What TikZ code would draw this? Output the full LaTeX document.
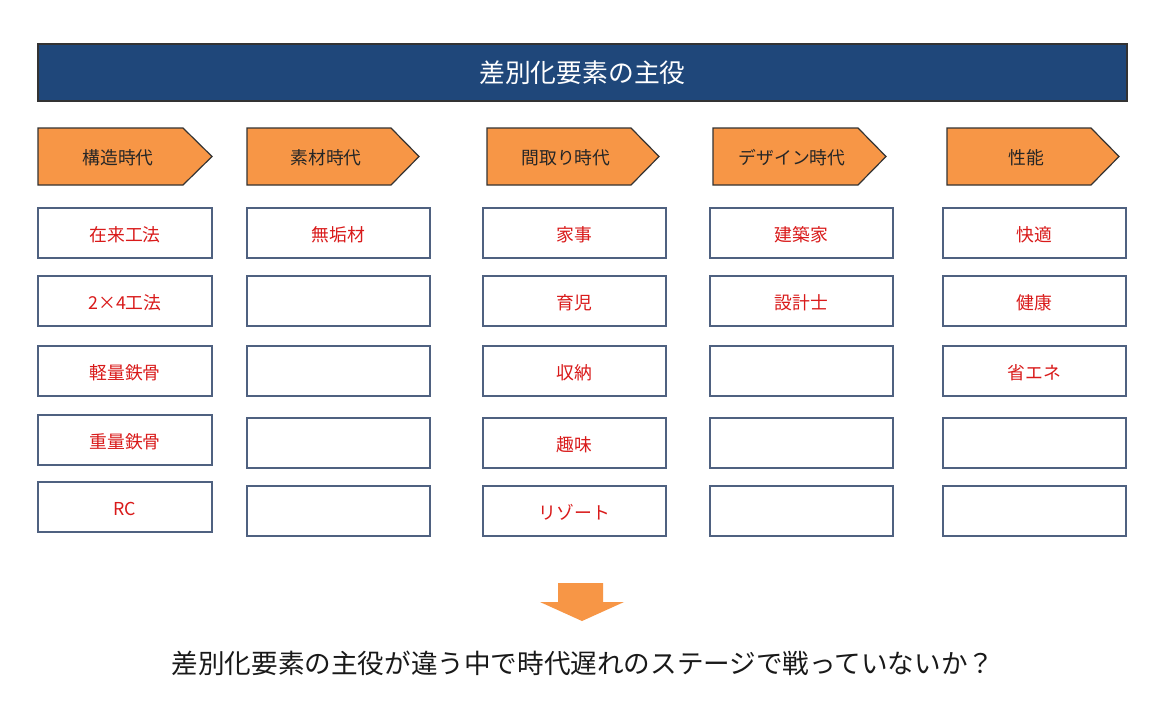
\documentclass[tikz,border=0pt]{standalone}
\usepackage{fontspec}
\setmainfont{Noto Sans CJK JP}
\begin{document}
\begin{tikzpicture}[x=1pt,y=-1pt,
  hdr/.style={draw=black!80,line width=1.2pt,fill=navy},
  stage/.style={draw=black!80,line width=1.2pt,fill=orangeA},
  cell/.style={draw=cellborder,line width=1.4pt,fill=white},
  stagetxt/.style={font=\fontsize{17.8}{20}\selectfont,text=black!85},
  celltxt/.style={font=\fontsize{17.8}{20}\selectfont,text=redA},
]
\definecolor{navy}{HTML}{1F477A}
\definecolor{orangeA}{HTML}{F79646}
\definecolor{cellborder}{HTML}{4F6180}
\definecolor{redA}{HTML}{D91A1A}
\useasboundingbox (0,0) rectangle (1154,718);
\fill[white] (0,0) rectangle (1154,718);
% header
\draw[hdr] (38,44) rectangle (1127,101);
\node[font=\fontsize{25.8}{28}\selectfont,text=white] (title) at (582.5,73) {差別化要素の主役};
% stage arrows
\draw[stage] (38,128) -- (183,128) -- (212,156.5) -- (183,185) -- (38,185) -- cycle;
\node[stagetxt] (s1) at (118,157.5) {構造時代};
\draw[stage] (247,128) -- (391,128) -- (419,156.5) -- (391,185) -- (247,185) -- cycle;
\node[stagetxt] (s2) at (326,157.5) {素材時代};
\draw[stage] (487,128) -- (631,128) -- (659,156.5) -- (631,185) -- (487,185) -- cycle;
\node[stagetxt] (s3) at (566,157.5) {間取り時代};
\draw[stage] (713,128) -- (858,128) -- (886,156.5) -- (858,185) -- (713,185) -- cycle;
\node[stagetxt] (s4) at (792,157.5) {デザイン時代};
\draw[stage] (947,128) -- (1091,128) -- (1119,156.5) -- (1091,185) -- (947,185) -- cycle;
\node[stagetxt] (s5) at (1026,157.5) {性能};
% cells column 1
\foreach \y/\t [count=\i] in {208/在来工法,276/2×4工法,346/軽量鉄骨,415/重量鉄骨,482/RC}{
  \draw[cell] (38,\y) rectangle (212,\y+50);
  \node[celltxt] (a\i) at (125,\y+26.5) {\t};
}
% column 2
\foreach \y/\t [count=\i] in {208/無垢材,276/,346/,418/,486/}{
  \draw[cell] (247,\y) rectangle (430,\y+50);
  \node[celltxt] (b\i) at (338.5,\y+26.5) {\t};
}
% column 3
\foreach \y/\t [count=\i] in {208/家事,276/育児,346/収納,418/趣味,486/リゾート}{
  \draw[cell] (483,\y) rectangle (666,\y+50);
  \node[celltxt] (c\i) at (574.5,\y+26.5) {\t};
}
% column 4
\foreach \y/\t [count=\i] in {208/建築家,276/設計士,346/,418/,486/}{
  \draw[cell] (710,\y) rectangle (893,\y+50);
  \node[celltxt] (d\i) at (801.5,\y+26.5) {\t};
}
% column 5
\foreach \y/\t [count=\i] in {208/快適,276/健康,346/省エネ,418/,486/}{
  \draw[cell] (943,\y) rectangle (1126,\y+50);
  \node[celltxt] (e\i) at (1034.5,\y+26.5) {\t};
}
% down arrow
\fill[orangeA] (558,583) -- (603,583) -- (603,602) -- (624,602) -- (582,621) -- (540,602) -- (558,602) -- cycle;
% bottom text
\node[font=\fontsize{26.6}{30}\selectfont,text=black!90] (q) at (583,663) {差別化要素の主役が違う中で時代遅れのステージで戦っていないか？};
\end{tikzpicture}
\end{document}
